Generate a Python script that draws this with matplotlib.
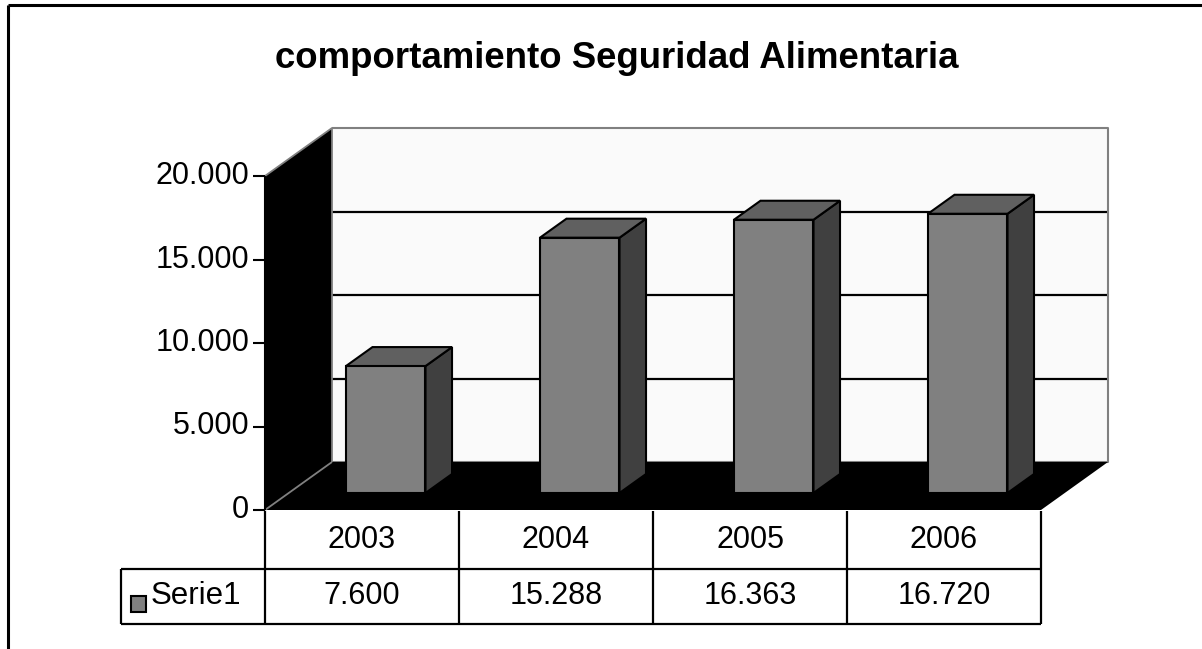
import numpy as np
import matplotlib
matplotlib.use("Agg")
import matplotlib.pyplot as plt
from matplotlib.patches import Polygon
from matplotlib.lines import Line2D
from matplotlib.transforms import IdentityTransform

# ---- data ----
title = "comportamiento Seguridad Alimentaria"
categories = ["2003", "2004", "2005", "2006"]
series_name = "Serie1"
values = [7600, 15288, 16363, 16720]
value_labels = ["7.600", "15.288", "16.363", "16.720"]
yticks = [0, 5000, 10000, 15000, 20000]
ytick_labels = ["0", "5.000", "10.000", "15.000", "20.000"]

W, H = 1202, 649
plt.rcParams['font.family'] = ['Liberation Sans', 'DejaVu Sans']
fig = plt.figure(figsize=(W / 100, H / 100), dpi=100)
fig.patch.set_facecolor('white')

# plot region (pixels from top-left)
L, R, B, T = 265, 1041, 510, 176
ax = fig.add_axes([L / W, 1 - B / H, (R - L) / W, (B - T) / H])
ax.set_xlim(0, len(categories))
ax.set_ylim(0, 20000)
ax.axis('off')

ID = IdentityTransform()
DEPTH = np.array([67.0, 48.0])  # display px (y up)


def P(x, v, d=0.0):
    return ax.transData.transform((x, v)) + d * DEPTH


def px(x, y_top):
    return np.array([x, H - y_top])


def poly(pts, fc, ec='none', lw=0, z=1):
    p = Polygon(np.array(pts), closed=True, facecolor=fc, edgecolor=ec,
                linewidth=lw, transform=ID, clip_on=False, zorder=z,
                joinstyle='miter')
    ax.add_artist(p)


def line(pts, color='black', lw=1.5, z=2):
    pts = np.array(pts)
    ln = Line2D(pts[:, 0], pts[:, 1], color=color, linewidth=lw,
                transform=ID, clip_on=False, zorder=z, solid_capstyle='butt')
    ax.add_artist(ln)


n = len(categories)
ymax = yticks[-1]
gray_edge = '#808080'

# back wall
poly([P(0, 0, 1), P(n, 0, 1), P(n, ymax, 1), P(0, ymax, 1)], '#FAFAFA', z=1)
for t in yticks[1:-1]:
    line([P(0, t, 1), P(n, t, 1)], 'black', 1.6, z=2)
line([P(0, ymax, 1), P(n, ymax, 1), P(n, 0, 1), P(0, 0, 1)], gray_edge, 1.5, z=2)
# left wall
poly([P(0, 0, 0), P(0, ymax, 0), P(0, ymax, 1), P(0, 0, 1)], 'black', z=3)
line([P(0, ymax, 0), P(0, ymax, 1), P(0, 0, 1)], gray_edge, 1.3, z=3)
# floor
poly([P(0, 0, 0), P(n, 0, 0), P(n, 0, 1), P(0, 0, 1)], 'black', z=3)
line([P(0, 0, 0), P(0, 0, 1)], gray_edge, 1.3, z=4)

# bars
f0, f1 = 0.354, 0.75
w = 0.41
for i, v in enumerate(values):
    c = i + 0.5
    x0, x1 = c - w / 2, c + w / 2
    poly([P(x1, 0, f0), P(x1, 0, f1), P(x1, v, f1), P(x1, v, f0)], '#404040', 'black', 1.5, z=5)
    poly([P(x0, v, f0), P(x0, v, f1), P(x1, v, f1), P(x1, v, f0)], '#606060', 'black', 1.5, z=5)
    poly([P(x0, 0, f0), P(x1, 0, f0), P(x1, v, f0), P(x0, v, f0)], '#808080', 'black', 1.5, z=6)

# value axis
line([P(0, 0, 0), P(0, ymax, 0)], 'black', 1.5, z=7)
for t, lab in zip(yticks, ytick_labels):
    p = P(0, t, 0)
    line([p - np.array([12, 0]), p], 'black', 1.5, z=7)
    ax.text(p[0] - 16, p[1], lab, transform=ID, ha='right', va='center',
            fontsize=22, color='black')

# data table
y_top, y_mid, y_bot = 511, 569, 624
leg_left = 121
for i in range(n + 1):
    xx = P(i, 0, 0)[0]
    line([(xx, H - y_top), (xx, H - y_bot)], 'black', 1.6, z=7)
x_end = P(n, 0, 0)[0]
line([(leg_left, H - y_mid), (x_end, H - y_mid)], 'black', 1.6, z=7)
line([(leg_left, H - y_bot), (x_end, H - y_bot)], 'black', 1.6, z=7)
line([(leg_left, H - y_mid), (leg_left, H - y_bot)], 'black', 1.6, z=7)
for i, (cat, vl) in enumerate(zip(categories, value_labels)):
    cx = P(i + 0.5, 0, 0)[0]
    ax.text(cx, H - (y_top + y_mid) / 2, cat, transform=ID, ha='center',
            va='center', fontsize=22)
    ax.text(cx, H - (y_mid + y_bot) / 2, vl, transform=ID, ha='center',
            va='center', fontsize=22)
# legend key
poly([px(131, 612), px(146, 612), px(146, 596), px(131, 596)], '#808080', 'black', 1.5, z=7)
ax.text(151, H - (y_mid + y_bot) / 2, series_name, transform=ID, ha='left',
        va='center', fontsize=22.5)

# title
ax.text(617, H - 68, title, transform=ID, ha='center', va='baseline',
        fontsize=26.4, fontweight='bold')

# chart frame
line([(8, H - 5), (W, H - 5)], 'black', 2.2, z=8)
line([(8, H - 5), (8, 0)], 'black', 2.2, z=8)

fig.savefig('out.png', dpi=100)
